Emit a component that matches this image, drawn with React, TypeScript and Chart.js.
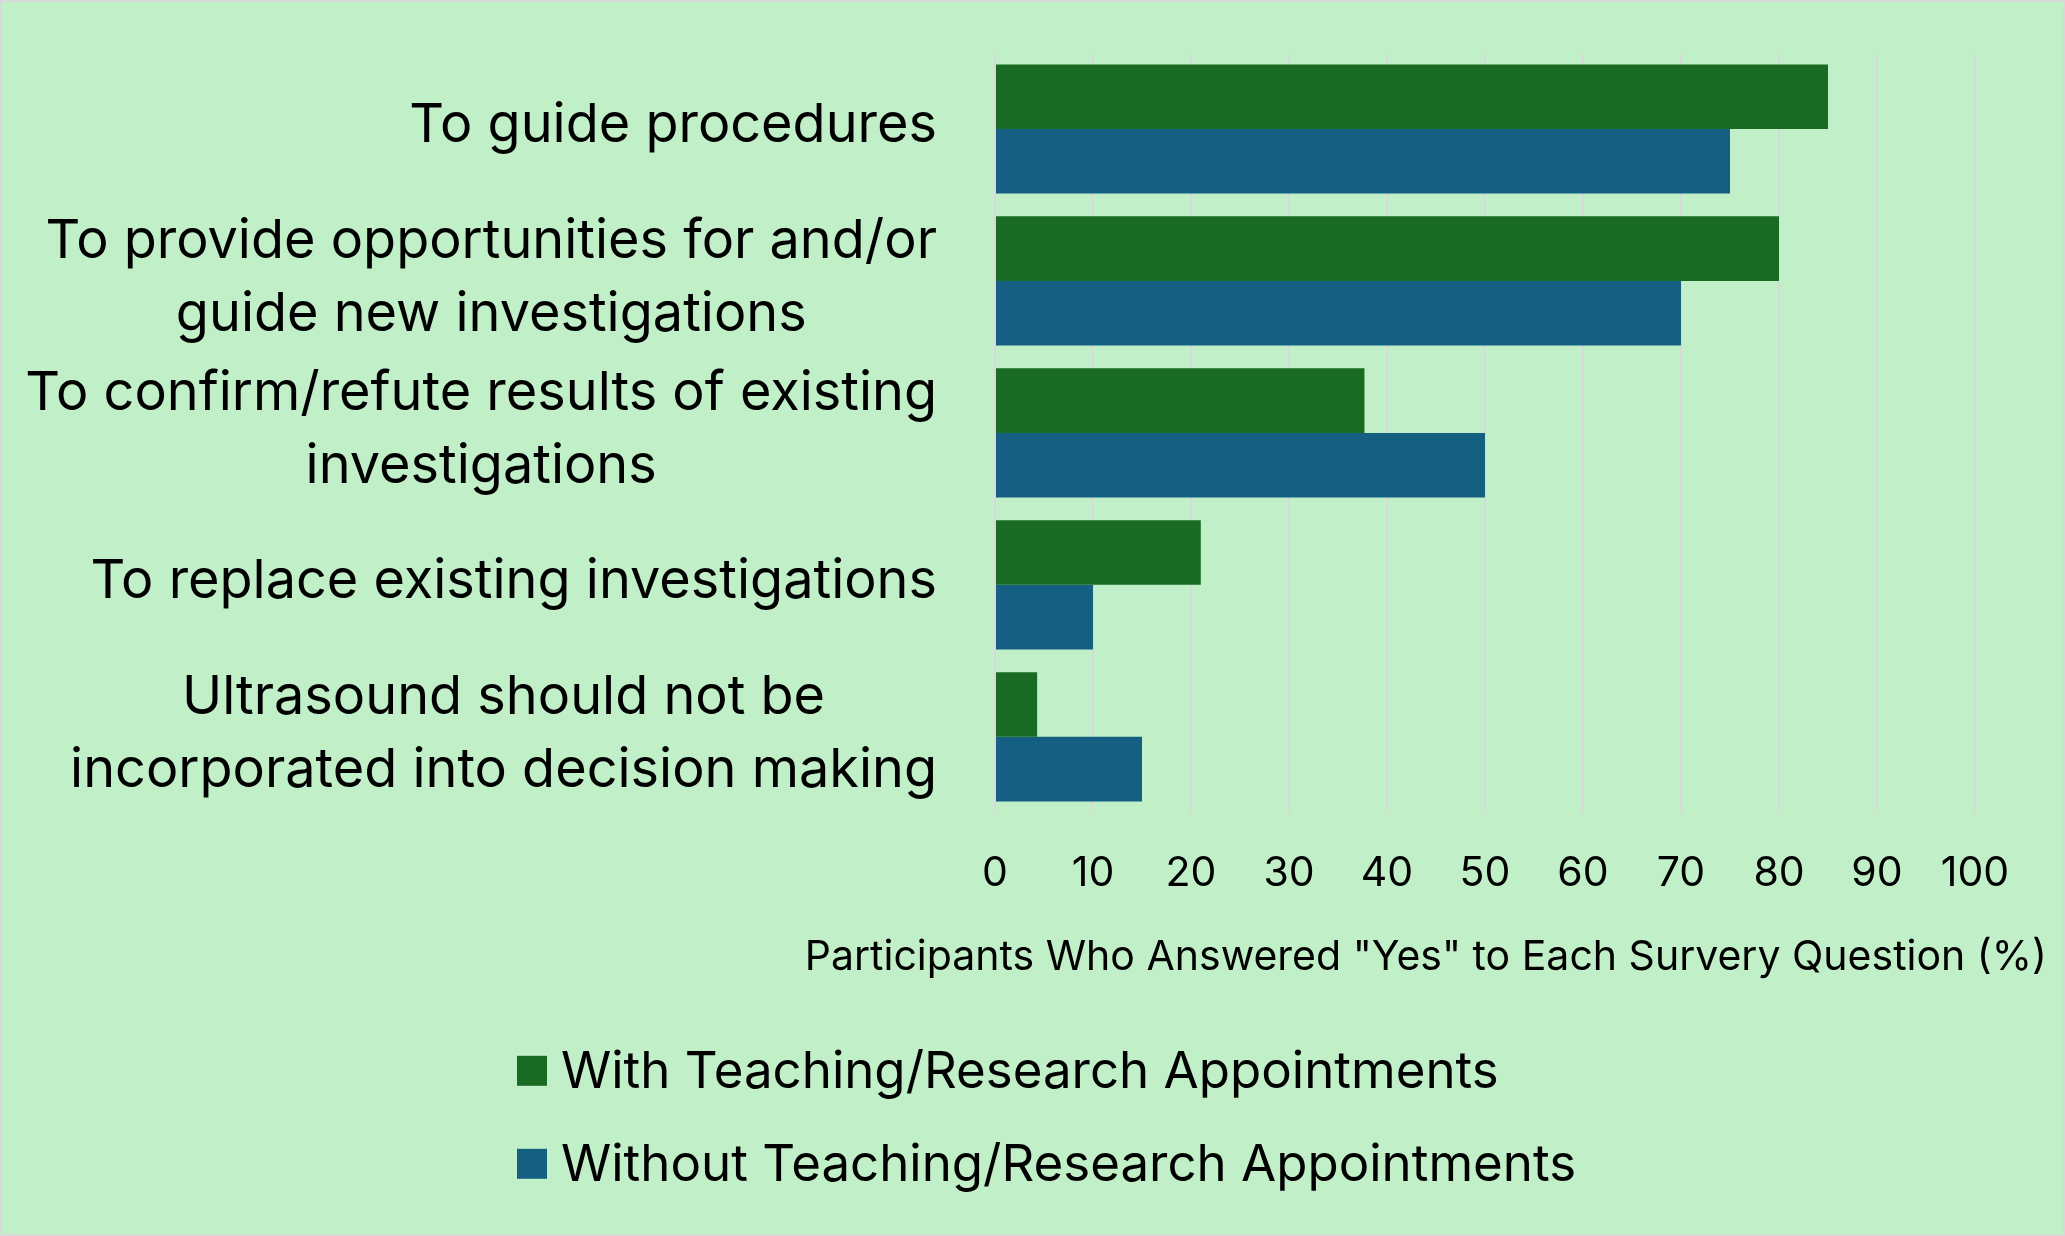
import React, { useEffect, useRef } from "react";
import { Chart, registerables } from "chart.js";

Chart.register(...registerables);

const FONT = "Inter, 'Liberation Sans', sans-serif";

const categories: string[][] = [
  ["To guide procedures"],
  ["To provide opportunities for and/or", "guide new investigations"],
  ["To confirm/refute results of existing", "investigations"],
  ["To replace existing investigations"],
  ["Ultrasound should not be", "incorporated into decision making"],
];

const seriesLabels = [
  "With Teaching/Research Appointments",
  "Without Teaching/Research Appointments",
];

const withTeaching = [85, 80, 37.7, 21, 4.3];
const withoutTeaching = [75, 70, 50, 10, 15];

const xMin = 0;
const xMax = 100;
const xStep = 10;

const xTitle = 'Participants Who Answered "Yes" to Each Survery Question (%)';

const GREEN = "#196B24";
const BLUE = "#156082";
const BG = "#C1F0C8";

const customText = {
  id: "customText",
  afterDraw(chart: any) {
    const ctx = chart.ctx as CanvasRenderingContext2D;
    const yScale = chart.scales.y;
    const area = chart.chartArea;
    ctx.save();
    ctx.fillStyle = "#000";
    ctx.textBaseline = "middle";

    // category labels: block right-aligned, lines centred within block
    ctx.font = `54px ${FONT}`;
    ctx.textAlign = "center";
    const lineH = 73;
    const rightX = area.left - 58;
    (chart.data.labels as string[][]).forEach((lines, i) => {
      const cy = yScale.getPixelForValue(i) - 3;
      const widest = Math.max(...lines.map((l) => ctx.measureText(l).width));
      const cx = rightX - widest / 2;
      lines.forEach((l, j) => {
        ctx.fillText(l, cx, cy + (j - (lines.length - 1) / 2) * lineH);
      });
    });

    // x-axis title
    ctx.font = `41px ${FONT}`;
    ctx.textAlign = "right";
    ctx.fillText(xTitle, area.right + 72, area.bottom + 145);

    // legend
    chart.data.datasets.forEach((ds: any, i: number) => {
      const ly = area.bottom + 258 + i * 93;
      ctx.fillStyle = ds.backgroundColor;
      ctx.fillRect(517, ly - 15, 30, 30);
      ctx.fillStyle = "#000";
      ctx.font = `51px ${FONT}`;
      ctx.textAlign = "left";
      ctx.fillText(ds.label, 561, ly + 2);
    });
    ctx.restore();
  },
};

export default function App() {
  const ref = useRef<HTMLCanvasElement | null>(null);

  useEffect(() => {
    if (!ref.current) return;
    const chart = new Chart(ref.current, {
      type: "bar",
      data: {
        labels: categories,
        datasets: [
          {
            label: seriesLabels[0],
            data: withTeaching,
            backgroundColor: GREEN,
            categoryPercentage: 0.85,
            barPercentage: 1,
          },
          {
            label: seriesLabels[1],
            data: withoutTeaching,
            backgroundColor: BLUE,
            categoryPercentage: 0.85,
            barPercentage: 1,
          },
        ],
      },
      options: {
        indexAxis: "y",
        responsive: false,
        animation: false,
        devicePixelRatio: 1,
        layout: { padding: { left: 995, right: 90, top: 53, bottom: 302 } },
        plugins: {
          legend: { display: false },
          tooltip: { enabled: false },
          title: { display: false },
        },
        scales: {
          x: {
            min: xMin,
            max: xMax,
            ticks: {
              stepSize: xStep,
              color: "#000",
              font: { family: FONT, size: 41 },
              padding: 36,
            },
            grid: { color: "#D9D9D9", lineWidth: 2, drawTicks: false },
            border: { display: false },
          },
          y: {
            display: false,
          },
        },
      },
      plugins: [customText],
    });
    return () => chart.destroy();
  }, []);

  return (
    <div
      style={{
        position: "fixed",
        left: 0,
        top: 0,
        width: 2065,
        height: 1236,
        background: BG,
      }}
    >
      <canvas ref={ref} width={2065} height={1236} style={{ position: "absolute", left: 0, top: 0 }} />
      <div
        style={{
          position: "absolute",
          inset: 0,
          border: "2px solid #D9D9D9",
          pointerEvents: "none",
        }}
      />
    </div>
  );
}
